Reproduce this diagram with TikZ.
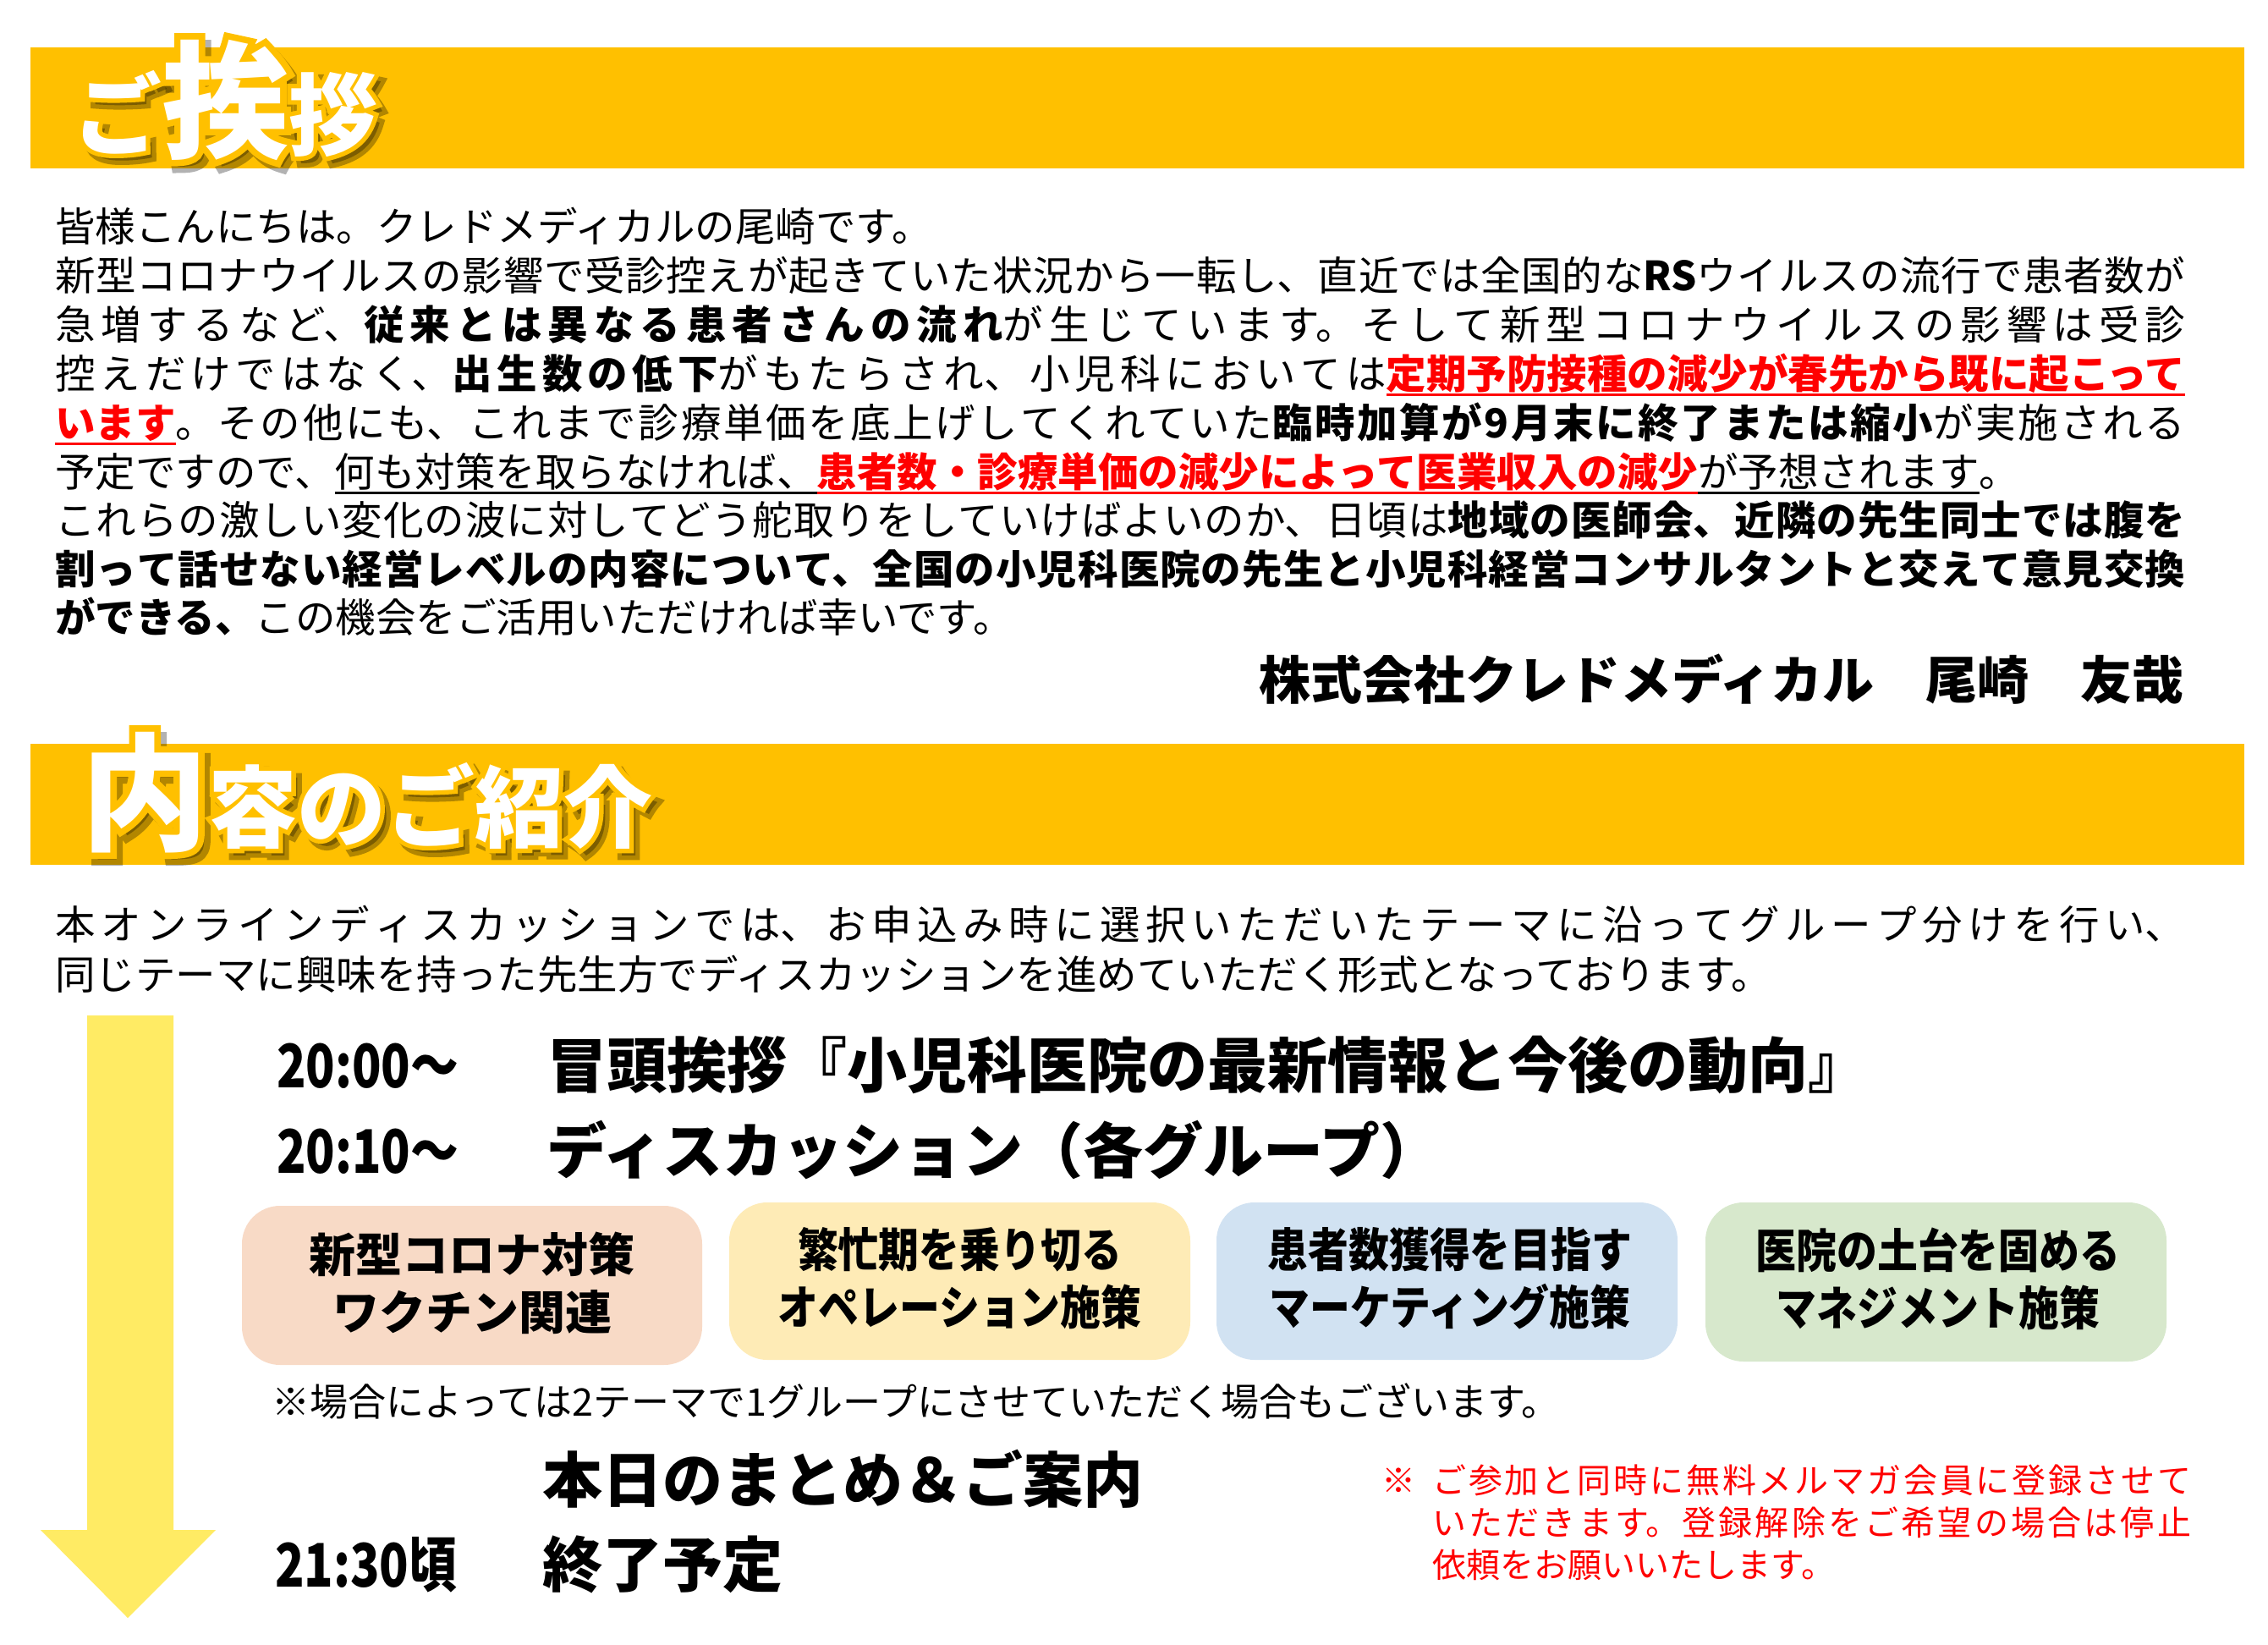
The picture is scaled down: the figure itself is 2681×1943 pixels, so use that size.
\documentclass[tikz,border=0pt]{standalone}
\usepackage{fontspec}
\setmainfont{Noto Sans CJK JP}
\newfontfamily\condfont[FakeStretch=0.87]{Noto Sans CJK JP}
\newfontfamily\timefont[FakeStretch=0.8]{Noto Sans CJK JP}
\newfontfamily\titleol[BoldFeatures={FakeBold=10}]{Noto Sans CJK JP}
\XeTeXlinebreaklocale "ja"
\XeTeXlinebreakskip=0pt plus 1fil
\definecolor{gold}{HTML}{FFC000}
\definecolor{arrowyellow}{HTML}{FFEB64}
\definecolor{peach}{HTML}{F8DAC6}
\definecolor{cream}{HTML}{FEEBB6}
\definecolor{skyblue}{HTML}{D1E2F2}
\definecolor{palegreen}{HTML}{D7E8CC}
\definecolor{redtext}{HTML}{FF0000}
\newsavebox\ulbox
\newcommand\ulc[2]{\leavevmode\sbox\ulbox{#2}\rlap{\textcolor{#1}{\rule[-9pt]{\wd\ulbox}{3pt}}}\usebox\ulbox}
\newcommand\redpart[1]{\ulc{redtext}{\textcolor{redtext}{\bfseries #1}}}
\newcommand\blackul[1]{\ulc{black}{#1}}
\newcommand\jline[2]{\parbox[b]{#1}{\parfillskip=0pt\relax\leavevmode #2}}
\newcommand\titleA[1]{#1\bfseries{\fontsize{105}{105}\selectfont ご}{\fontsize{150}{150}\selectfont 挨}{\fontsize{105}{105}\selectfont 拶}}
\newcommand\titleB[1]{#1\bfseries{\fontsize{150}{150}\selectfont 内}{\fontsize{105}{105}\selectfont 容のご紹介}}
\begin{document}
\begin{tikzpicture}[x=1pt,y=-1pt,
  body/.style={anchor=base west, inner sep=0pt, font=\fontsize{47.5}{57.7}\selectfont},
  sched/.style={anchor=base west, inner sep=0pt, font=\fontsize{71}{71}\selectfont\bfseries},
  titlebase/.style={anchor=base west, inner sep=0pt},
  grpbox/.style={rectangle, rounded corners=45pt, draw=none, inner sep=0pt},
  grptext/.style={align=center, inner sep=0pt, font=\fontsize{55}{68}\selectfont\bfseries},
  grptextc/.style={align=center, inner sep=0pt, font=\fontsize{55}{68}\selectfont\condfont\bfseries},
  notered/.style={anchor=base west, inner sep=0pt, text=redtext, font=\fontsize{40}{50}\selectfont},
]
\useasboundingbox (0,0) rectangle (2681,1943);
\fill[white] (0,0) rectangle (2681,1943);

% ---------- section 1 band and title
\fill[gold] (36,56) rectangle (2653,199);
\node[titlebase, text=black, text opacity=0.3] (t1s) at (93,183) {\titleA{\titleol}};
\node[titlebase, text=gold] (t1o) at (86,175) {\titleA{\titleol}};
\node[titlebase, text=white] (t1) at (86,175) {\titleA{\relax}};

% ---------- greeting paragraph
\node[body] (p1) at (65,285) {皆様こんにちは。クレドメディカルの尾崎です。};
\node[body] (p2) at (65,343) {\jline{2518pt}{新型コロナウイルスの影響で受診控えが起きていた状況から一転し、直近では全国的な\textbf{RS}ウイルスの流行で患者数が}};
\node[body] (p3) at (65,401) {\jline{2518pt}{急増するなど、\textbf{従来とは異なる患者さんの流れ}が生じています。そして新型コロナウイルスの影響は受診}};
\node[body] (p4) at (65,459) {\jline{2518pt}{控えだけではなく、\textbf{出生数の低下}がもたらされ、小児科においては\redpart{定期予防接種の減少が春先から既に起こって}}};
\node[body] (p5) at (65,517) {\jline{2518pt}{\redpart{います}。その他にも、これまで診療単価を底上げしてくれていた\textbf{臨時加算が9月末に終了または縮小}が実施される}};
\node[body] (p6) at (65,575) {予定ですので、\blackul{何も対策を取らなければ、}\redpart{患者数・診療単価の減少によって医業収入の減少}\blackul{が予想されます}。};
\node[body] (p7) at (65,632) {\jline{2518pt}{これらの激しい変化の波に対してどう舵取りをしていけばよいのか、日頃は\textbf{地域の医師会、近隣の先生同士では腹を}}};
\node[body] (p8) at (65,690) {\jline{2518pt}{\textbf{割って話せない経営レベルの内容について、全国の小児科医院の先生と小児科経営コンサルタントと交えて意見交換}}};
\node[body] (p9) at (65,747) {\textbf{ができる、}この機会をご活用いただければ幸いです。};
\node[anchor=base east, inner sep=0pt, font=\fontsize{61}{61}\selectfont\bfseries] (sig) at (2582,826) {株式会社クレドメディカル　尾崎　友哉};

% ---------- section 2 band and title
\fill[gold] (36,879) rectangle (2653,1022);
\node[titlebase, text=black, text opacity=0.3] (t2s) at (103,1001) {\titleB{\titleol}};
\node[titlebase, text=gold] (t2o) at (96,993) {\titleB{\titleol}};
\node[titlebase, text=white] (t2) at (96,993) {\titleB{\relax}};

\node[body] (q1) at (65,1110) {\jline{2518pt}{本オンラインディスカッションでは、お申込み時に選択いただいたテーマに沿ってグループ分けを行い、}};
\node[body] (q2) at (65,1169) {同じテーマに興味を持った先生方でディスカッションを進めていただく形式となっております。};

% ---------- timeline arrow
\fill[arrowyellow] (103,1200) -- (205,1200) -- (205,1808) -- (255,1808) -- (151,1912) -- (48,1808) -- (103,1808) -- cycle;

% ---------- schedule
\node[sched] (s1t) at (327,1285) {\timefont 20:00〜};
\node[sched] (s1) at (646,1285) {冒頭挨拶『小児科医院の最新情報と今後の動向』};
\node[sched] (s2t) at (327,1386) {\timefont 20:10〜};
\node[sched] (s2) at (646,1386) {ディスカッション（各グループ）};

% ---------- group boxes
\node[grpbox, fill=peach, minimum width=544pt, minimum height=188pt] (g1) at (558,1519) {};
\node[grpbox, fill=cream, minimum width=545pt, minimum height=186pt] (g2) at (1134.5,1514) {};
\node[grpbox, fill=skyblue, minimum width=545pt, minimum height=186pt] (g3) at (1710.5,1514) {};
\node[grpbox, fill=palegreen, minimum width=545pt, minimum height=188pt] (g4) at (2288.5,1515) {};
\node[grptext] (g1t) at (558,1516) {新型コロナ対策\\ワクチン関連};
\node[grptextc] (g2t) at (1134.5,1511) {繁忙期を乗り切る\\オペレーション施策};
\node[grptextc] (g3t) at (1714,1511) {患者数獲得を目指す\\マーケティング施策};
\node[grptextc] (g4t) at (2291,1511) {医院の土台を固める\\マネジメント施策};

\node[anchor=base west, inner sep=0pt, font=\fontsize{45}{45}\selectfont] (note) at (321,1673) {※場合によっては2テーマで1グループにさせていただく場合もございます。};

\node[sched] (s3) at (641,1775) {本日のまとめ＆ご案内};
\node[sched] (s4t) at (325,1875) {\timefont 21:30頃};
\node[sched] (s4) at (641,1875) {終了予定};

% ---------- red note
\node[notered] (rmark) at (1633,1764) {※};
\node[notered] (r1) at (1693,1764) {\jline{897pt}{ご参加と同時に無料メルマガ会員に登録させて}};
\node[notered] (r2) at (1693,1814) {\jline{897pt}{いただきます。登録解除をご希望の場合は停止}};
\node[notered] (r3) at (1693,1864) {依頼をお願いいたします。};
\end{tikzpicture}
\end{document}
